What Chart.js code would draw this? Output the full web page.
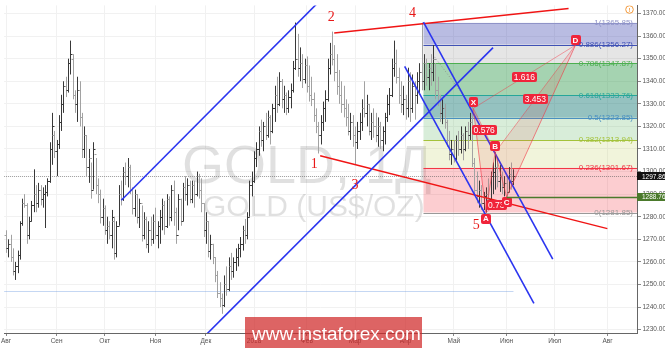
<!DOCTYPE html>
<html>
<head>
<meta charset="utf-8">
<script src="https://cdn.jsdelivr.net/npm/chart.js@4.4.1/dist/chart.umd.min.js"></script>
<style>
    html, body { margin: 0; padding: 0; background: #fff; overflow: hidden; }
    #wrap { width: 665px; height: 348px; }
</style>
</head>
<body>
<div id="wrap"><canvas id="chart" width="665" height="348"></canvas></div>
<script>
// x axis = trading day index from 1 Aug 2017
const monthTicks = [0, 22, 43, 65, 87, 108, 131, 152, 174, 195, 218, 239, 262];
const monthLabels = ['Авг', 'Сен', 'Окт', 'Ноя', 'Дек', '2018', 'Фев', 'Мар', 'Апр', 'Май', 'Июн', 'Июл', 'Авг'];
const priceTicks = [1230, 1240, 1250, 1260, 1270, 1280, 1290, 1300, 1310, 1320, 1330, 1340, 1350, 1360, 1370];

// daily OHLC, GOLD
const highs = [
    1274, 1270, 1272, 1266, 1260, 1265, 1278, 1288, 1290, 1286,
    1280, 1287, 1301, 1294, 1295, 1294, 1293, 1294, 1297, 1313,
    1326, 1318, 1314, 1325, 1334, 1340, 1342, 1350, 1358, 1352,
    1336, 1342, 1340, 1326, 1320, 1316, 1310, 1304, 1313, 1306,
    1297, 1292, 1288, 1285, 1280, 1278, 1283, 1280, 1278, 1294,
    1296, 1302, 1304, 1306, 1303, 1293, 1292, 1290, 1288, 1285,
    1282, 1280, 1278, 1280, 1281, 1284, 1278, 1283, 1288, 1287,
    1290, 1289, 1294, 1296, 1284, 1290, 1288, 1295, 1298, 1297,
    1296, 1296, 1296, 1300, 1299, 1297, 1286, 1282, 1278, 1272,
    1268, 1262, 1256, 1251, 1246, 1254, 1258, 1262, 1264, 1262,
    1266, 1268, 1271, 1276, 1279, 1282, 1296, 1300, 1309, 1313,
    1320, 1323, 1322, 1326, 1327, 1325, 1330, 1338, 1342, 1344,
    1341, 1338, 1335, 1336, 1339, 1349, 1366, 1361, 1355, 1352,
    1350, 1351, 1347, 1342, 1335, 1328, 1322, 1325, 1331, 1336,
    1350, 1357, 1362, 1356, 1352, 1345, 1340, 1338, 1332, 1330,
    1326, 1325, 1320, 1322, 1326, 1332, 1340, 1334, 1330, 1326,
    1328, 1326, 1324, 1322, 1320, 1326, 1334, 1337, 1350, 1358,
    1354, 1346, 1340, 1338, 1334, 1346, 1344, 1343, 1340, 1344,
    1348, 1366, 1352, 1350, 1348, 1352, 1356, 1348, 1342, 1334,
    1332, 1330, 1323, 1318, 1314, 1314, 1316, 1318, 1320, 1317,
    1320, 1322, 1326, 1328, 1306, 1300, 1296, 1294, 1291, 1293,
    1297, 1300, 1304, 1308.5, 1306, 1303, 1300, 1298, 1298, 1302,
    1304, 1301
];
const lows = [
    1264, 1262, 1260, 1254, 1252, 1255, 1261, 1276, 1284, 1268,
    1270, 1278, 1282, 1282, 1284, 1285, 1284, 1275, 1289, 1295,
    1303, 1306, 1298, 1310, 1318, 1326, 1333, 1335, 1343, 1332,
    1326, 1322, 1320, 1306, 1306, 1298, 1295, 1288, 1292, 1290,
    1286, 1277, 1276, 1272, 1268, 1270, 1266, 1261, 1262, 1276,
    1285, 1287, 1294, 1293, 1290, 1281, 1280, 1277, 1275, 1269,
    1270, 1266, 1264, 1267, 1268, 1270, 1266, 1268, 1274, 1272,
    1275, 1276, 1278, 1276, 1268, 1274, 1276, 1278, 1287, 1285,
    1286, 1286, 1284, 1289, 1288, 1282, 1271, 1268, 1262, 1261,
    1259, 1251, 1244, 1240, 1237, 1240, 1245, 1247, 1252, 1253,
    1256, 1258, 1262, 1265, 1268, 1270, 1280, 1289, 1295, 1302,
    1307, 1311, 1309, 1314, 1315, 1312, 1317, 1322, 1326, 1329,
    1328, 1326, 1325, 1326, 1328, 1335, 1345, 1342, 1340, 1337,
    1339, 1335, 1331, 1329, 1322, 1317, 1308, 1312, 1318, 1322,
    1331, 1343, 1347, 1340, 1334, 1330, 1326, 1324, 1320, 1316,
    1314, 1311, 1303, 1310, 1314, 1318, 1324, 1320, 1316, 1314,
    1315, 1313, 1311, 1310, 1309, 1312, 1322, 1325, 1333, 1342,
    1339, 1330, 1326, 1325, 1323, 1324, 1322, 1326, 1323, 1330,
    1334, 1336, 1336, 1338, 1336, 1338, 1340, 1332, 1329, 1322,
    1321, 1319, 1311, 1305, 1303, 1304, 1305, 1307, 1308, 1305,
    1309, 1310, 1314, 1302, 1290, 1286, 1284, 1283, 1283, 1281.85,
    1285, 1287, 1290, 1292, 1293, 1291, 1290, 1289, 1288.76, 1291,
    1292, 1294
];
const opens = [
    1272, 1266, 1268, 1262, 1256, 1258, 1263, 1277, 1286, 1285,
    1272, 1278, 1285, 1290, 1286, 1292, 1288, 1290, 1291, 1296,
    1310, 1316, 1309, 1312, 1322, 1330, 1338, 1336, 1348, 1350,
    1334, 1330, 1336, 1324, 1310, 1316, 1302, 1306, 1292, 1308,
    1294, 1290, 1280, 1284, 1274, 1276, 1272, 1278, 1264, 1276,
    1290, 1288, 1300, 1298, 1302, 1292, 1284, 1290, 1280, 1286,
    1272, 1279, 1268, 1274, 1270, 1278, 1272, 1276, 1280, 1285,
    1276, 1288, 1280, 1292, 1282, 1272, 1288, 1278, 1293, 1290,
    1294, 1288, 1294, 1290, 1298, 1292, 1286, 1274, 1278, 1265,
    1268, 1262, 1254, 1246, 1244, 1241, 1250, 1248, 1258, 1256,
    1260, 1262, 1266, 1268, 1274, 1272, 1280, 1294, 1296, 1306,
    1310, 1318, 1314, 1320, 1316, 1324, 1318, 1328, 1334, 1330,
    1340, 1332, 1334, 1328, 1333, 1336, 1346, 1350, 1346, 1348,
    1341, 1347, 1338, 1334, 1332, 1325, 1320, 1316, 1322, 1328,
    1332, 1346, 1352, 1350, 1344, 1338, 1334, 1330, 1328, 1324,
    1318, 1322, 1316, 1313, 1318, 1322, 1328, 1326, 1330, 1318,
    1322, 1320, 1316, 1320, 1314, 1318, 1324, 1330, 1334, 1346,
    1348, 1342, 1334, 1330, 1332, 1328, 1340, 1328, 1338, 1334,
    1340, 1344, 1340, 1348, 1342, 1346, 1344, 1350, 1336, 1334,
    1326, 1328, 1322, 1314, 1308, 1310, 1306, 1314, 1310, 1316,
    1310, 1318, 1316, 1322, 1304, 1292, 1289, 1292, 1286, 1289,
    1290, 1288, 1298, 1300, 1302, 1296, 1298, 1293, 1295, 1291,
    1299, 1296
];
const closes = [
    1266, 1268, 1262, 1256, 1258, 1263, 1277, 1286, 1285, 1272,
    1278, 1285, 1290, 1286, 1292, 1288, 1290, 1291, 1296, 1310,
    1320, 1309, 1312, 1322, 1330, 1338, 1336, 1348, 1352, 1334,
    1330, 1336, 1324, 1310, 1316, 1302, 1306, 1292, 1310, 1294,
    1290, 1280, 1284, 1274, 1276, 1272, 1280, 1264, 1276, 1290,
    1288, 1300, 1298, 1302, 1292, 1284, 1290, 1280, 1286, 1272,
    1279, 1268, 1274, 1270, 1278, 1272, 1276, 1280, 1285, 1276,
    1288, 1280, 1292, 1282, 1272, 1288, 1278, 1293, 1290, 1294,
    1288, 1294, 1290, 1298, 1292, 1286, 1274, 1278, 1265, 1268,
    1262, 1254, 1246, 1244, 1241, 1250, 1248, 1258, 1256, 1260,
    1262, 1266, 1268, 1274, 1272, 1280, 1294, 1296, 1306, 1310,
    1318, 1314, 1320, 1316, 1324, 1318, 1328, 1334, 1330, 1340,
    1332, 1334, 1328, 1333, 1336, 1346, 1350, 1346, 1348, 1341,
    1347, 1338, 1334, 1332, 1325, 1320, 1316, 1322, 1328, 1332,
    1346, 1352, 1350, 1344, 1338, 1334, 1330, 1328, 1324, 1318,
    1322, 1316, 1313, 1318, 1322, 1328, 1326, 1330, 1318, 1322,
    1320, 1316, 1320, 1314, 1318, 1324, 1330, 1334, 1346, 1348,
    1342, 1334, 1330, 1332, 1328, 1340, 1328, 1338, 1334, 1340,
    1344, 1340, 1348, 1342, 1346, 1344, 1350, 1336, 1334, 1326,
    1328, 1322, 1314, 1308, 1310, 1306, 1314, 1310, 1316, 1310,
    1318, 1316, 1322, 1304, 1292, 1289, 1292, 1286, 1289, 1290,
    1288, 1298, 1300, 1302, 1296, 1298, 1293, 1295, 1291, 1299,
    1296, 1297.86
];

// fibonacci retracement from wave 4 top
const fibStart = 181.8;
const fibRatios = ['1', '0.886', '0.786', '0.618', '0.5', '0.382', '0.236', '0'];
const fibPrices = [1365.85, 1356.27, 1347.87, 1333.76, 1323.85, 1313.94, 1301.67, 1281.85];

// trend lines [index, price]
const channelUpLower = [[85.7, 1226.3], [212.1, 1354.9]];
const channelUpUpper = [[50.2, 1287.3], [136.8, 1375.8]];
const channelDownUpper = [[181.8, 1366.2], [238.1, 1261.2]];
const channelDownLower = [[173.6, 1346.6], [229.9, 1241.6]];
const wedgeTop = [[142.9, 1361.4], [245.0, 1372.2]];
const wedgeBottom = [[136.8, 1307.0], [261.9, 1274.7]];
const guideDotted = [[186.6, 1350.8], [203.5, 1328]];

// elliott wave counts
const waveLabels = ['1', '2', '3', '4', '5'];
const waveIdx = [134.2, 141.6, 152, 177, 204.8];
const wavePrice = [1303.0, 1368.4, 1293.9, 1370.1, 1276.4];

// XABCD pattern
const patternNames = ['X', 'A', 'B', 'C', 'D'];
const patternIdx = [203.5, 209, 213, 218, 248];
const patternPrice = [1328, 1281.85, 1308.5, 1288.8, 1356];
const ratioLabels = ['0.576', '0.73', '1.616', '3.453'];   // XB, AC, XD, BD

const lastPrice = 1297.86;
const supportPrice = 1288.76;
const supportStart = 218;
const blueLevel = 1247;

function line(points, color, width, dash) {
    return {
        data: points.map(p => ({ x: p[0], y: p[1] })),
        borderColor: color,
        borderWidth: width,
        borderDash: dash || [],
        pointRadius: 0,
        fill: false,
        tension: 0
    };
}

const fibFill = [
    'rgba(70,80,180,0.38)', 'rgba(150,150,150,0.25)', 'rgba(40,150,70,0.42)', 'rgba(20,120,115,0.45)',
    'rgba(76,175,80,0.22)', 'rgba(200,210,110,0.25)', 'rgba(242,54,69,0.25)'
];
const fibLine = ['#8f93c8', '#3f51b5', '#4caf50', '#26a69a', '#4a90c0', '#a4c23a', '#f23645', '#999999'];

const backdrop = {
    id: 'backdrop',
    beforeDatasetsDraw(chart) {
        const { ctx, chartArea: a, scales: { x, y } } = chart;
        ctx.save();
        ctx.beginPath();
        ctx.rect(a.left, a.top, a.right - a.left, a.bottom - a.top);
        ctx.clip();

        // watermark
        ctx.fillStyle = 'rgba(0,0,0,0.12)';
        ctx.textBaseline = 'alphabetic';
        ctx.font = '54px "Liberation Sans", Arial, sans-serif';
        ctx.fillText('GOLD, 1Д', 182, 183);
        ctx.font = '30px "Liberation Sans", Arial, sans-serif';
        ctx.fillText('GOLD (US$/OZ)', 203, 216);

        // fib zones
        const fx = x.getPixelForValue(fibStart);
        for (let k = 0; k < fibPrices.length - 1; k++) {
            const y1 = y.getPixelForValue(fibPrices[k]);
            const y2 = y.getPixelForValue(fibPrices[k + 1]);
            ctx.fillStyle = fibFill[k];
            ctx.fillRect(fx, y1, a.right - fx, y2 - y1);
        }
        ctx.lineWidth = 1;
        fibPrices.forEach((p, k) => {
            const py = Math.round(y.getPixelForValue(p)) + 0.5;
            ctx.strokeStyle = fibLine[k];
            ctx.beginPath();
            ctx.moveTo(fx, py);
            ctx.lineTo(a.right, py);
            ctx.stroke();
        });

        // horizontal levels
        const by = Math.round(y.getPixelForValue(blueLevel)) + 0.5;
        ctx.strokeStyle = 'rgba(90,140,220,0.35)';
        ctx.beginPath();
        ctx.moveTo(a.left, by);
        ctx.lineTo(x.getPixelForValue(221), by);
        ctx.stroke();

        const ly = Math.round(y.getPixelForValue(lastPrice)) + 0.5;
        ctx.strokeStyle = 'rgba(90,90,90,0.6)';
        ctx.setLineDash([1, 1]);
        ctx.beginPath();
        ctx.moveTo(a.left, ly);
        ctx.lineTo(a.right, ly);
        ctx.stroke();
        ctx.setLineDash([]);

        // OHLC bars
        for (let i = 0; i < highs.length; i++) {
            const px = Math.round(x.getPixelForValue(i)) + 0.5;
            const yo = Math.round(y.getPixelForValue(opens[i])) + 0.5;
            const yc = Math.round(y.getPixelForValue(closes[i])) + 0.5;
            ctx.strokeStyle = closes[i] >= opens[i] ? '#383838' : '#a2a2a2';
            ctx.beginPath();
            ctx.moveTo(px, y.getPixelForValue(highs[i]));
            ctx.lineTo(px, y.getPixelForValue(lows[i]));
            ctx.moveTo(px - 2, yo);
            ctx.lineTo(px, yo);
            ctx.moveTo(px, yc);
            ctx.lineTo(px + 2, yc);
            ctx.stroke();
        }
        ctx.restore();
    },
    afterDatasetsDraw(chart) {
        const { ctx, chartArea: a, scales: { x, y } } = chart;
        const P = k => [x.getPixelForValue(patternIdx[k]), y.getPixelForValue(patternPrice[k])];
        const [X, A, B, C, D] = [0, 1, 2, 3, 4].map(P);
        ctx.save();
        ctx.beginPath();
        ctx.rect(a.left, a.top, a.right - a.left, a.bottom - a.top);
        ctx.clip();

        // XABCD triangles
        ctx.fillStyle = 'rgba(242,54,69,0.12)';
        [[X, A, B], [B, C, D]].forEach(t => {
            ctx.beginPath();
            ctx.moveTo(...t[0]); ctx.lineTo(...t[1]); ctx.lineTo(...t[2]);
            ctx.closePath();
            ctx.fill();
        });
        ctx.strokeStyle = 'rgba(242,54,69,0.6)';
        ctx.lineWidth = 1;
        ctx.beginPath();
        ctx.moveTo(...X); ctx.lineTo(...A); ctx.lineTo(...B); ctx.lineTo(...C); ctx.lineTo(...D);
        ctx.stroke();
        ctx.strokeStyle = 'rgba(242,54,69,0.45)';
        [[X, B], [A, C], [X, D], [B, D]].forEach(s => {
            ctx.beginPath();
            ctx.moveTo(...s[0]); ctx.lineTo(...s[1]);
            ctx.stroke();
        });

        function tag(text, cx, cy, font) {
            ctx.font = font;
            const w = ctx.measureText(text).width + 4;
            const h = 10;
            ctx.fillStyle = '#f0243a';
            ctx.beginPath();
            ctx.roundRect(Math.round(cx - w / 2), Math.round(cy - h / 2), Math.round(w), h, 2);
            ctx.fill();
            ctx.fillStyle = '#fff';
            ctx.textAlign = 'center';
            ctx.textBaseline = 'middle';
            ctx.fillText(text, cx, cy + 0.5);
        }
        const mid = (p, q) => [(p[0] + q[0]) / 2, (p[1] + q[1]) / 2];
        const ratioPos = [mid(X, B), mid(A, C), mid(X, D), mid(B, D)];
        ratioLabels.forEach((t, k) => tag(t, ratioPos[k][0], ratioPos[k][1], '8.5px "Liberation Sans", Arial, sans-serif'));
        const offs = [-6, 6, -6, 5, -5];
        [X, A, B, C, D].forEach((p, k) => tag(patternNames[k], p[0], p[1] + offs[k], 'bold 8px "Liberation Sans", Arial, sans-serif'));

        // wave counts
        ctx.font = '14px "Liberation Serif", "Times New Roman", serif';
        ctx.fillStyle = '#e81818';
        ctx.textAlign = 'center';
        ctx.textBaseline = 'middle';
        waveLabels.forEach((t, k) => ctx.fillText(t, x.getPixelForValue(waveIdx[k]), y.getPixelForValue(wavePrice[k])));

        // fib labels
        ctx.font = '8px "Liberation Sans", Arial, sans-serif';
        ctx.textAlign = 'right';
        fibPrices.forEach((p, k) => {
            ctx.fillStyle = fibLine[k];
            ctx.fillText(fibRatios[k] + '(' + p.toFixed(2) + ')', a.right - 4, y.getPixelForValue(p));
        });

        // support level
        const sy = Math.round(y.getPixelForValue(supportPrice)) + 0.5;
        ctx.strokeStyle = '#4b7a2c';
        ctx.lineWidth = 1.5;
        ctx.beginPath();
        ctx.moveTo(x.getPixelForValue(supportStart), sy);
        ctx.lineTo(a.right, sy);
        ctx.stroke();

        // alert icon
        ctx.strokeStyle = '#f39a3c';
        ctx.lineWidth = 1;
        ctx.beginPath();
        ctx.arc(629.5, 9.5, 3.8, 0, Math.PI * 2);
        ctx.stroke();
        ctx.fillStyle = '#f39a3c';
        ctx.font = 'bold 6px "Liberation Sans", Arial, sans-serif';
        ctx.textAlign = 'center';
        ctx.fillText('!', 629.5, 10);
        ctx.restore();
    },
    afterDraw(chart) {
        const { ctx, chartArea: a, scales: { y } } = chart;
        ctx.save();
        function priceBox(p, bg) {
            const cy = y.getPixelForValue(p);
            ctx.fillStyle = bg;
            ctx.fillRect(a.right, Math.round(cy - 4), 665 - a.right, 8);
            ctx.fillStyle = '#fff';
            ctx.font = '6.5px "Liberation Sans", Arial, sans-serif';
            ctx.textAlign = 'left';
            ctx.textBaseline = 'middle';
            ctx.fillText(p.toFixed(2), a.right + 5, cy + 0.5);
        }
        priceBox(lastPrice, '#111');
        priceBox(supportPrice, '#4b7a2c');

        // banner
        ctx.fillStyle = 'rgba(208,40,40,0.72)';
        ctx.fillRect(245, 317, 177, 31);
        ctx.fillStyle = '#fff';
        ctx.font = '19px "Liberation Sans", Arial, sans-serif';
        ctx.textAlign = 'left';
        ctx.textBaseline = 'alphabetic';
        ctx.fillText('www.instaforex.com', 252, 340);
        ctx.restore();
    }
};

new Chart(document.getElementById('chart'), {
    type: 'line',
    data: {
        datasets: [
            line(channelUpLower, '#2b35f0', 1.6),
            line(channelUpUpper, '#2b35f0', 1.6),
            line(channelDownUpper, '#2b35f0', 1.6),
            line(channelDownLower, '#2b35f0', 1.6),
            line(wedgeTop, '#f01414', 1.4),
            line(wedgeBottom, '#f01414', 1.4),
            line(guideDotted, 'rgba(120,120,120,0.6)', 1, [1, 2])
        ]
    },
    options: {
        responsive: false,
        animation: false,
        devicePixelRatio: 1,
        layout: { padding: 0 },
        plugins: { legend: { display: false }, tooltip: { enabled: false } },
        scales: {
            x: {
                type: 'linear',
                min: -0.87,
                max: 274.8,
                afterBuildTicks: axis => { axis.ticks = monthTicks.map(v => ({ value: v })); },
                afterFit: axis => { axis.height = 15; },
                grid: { color: '#f1f1f1', tickLength: 3, tickColor: '#888' },
                border: { display: true, color: '#666' },
                ticks: {
                    autoSkip: false,
                    maxRotation: 0,
                    padding: 1,
                    color: '#555',
                    font: { size: 6.5, family: '"Liberation Sans", Arial, sans-serif' },
                    callback: (v, i) => monthLabels[i]
                }
            },
            y: {
                position: 'right',
                min: 1228.5,
                max: 1373.6,
                afterBuildTicks: axis => { axis.ticks = priceTicks.map(v => ({ value: v })); },
                afterFit: axis => { axis.width = 28; },
                grid: { color: '#f1f1f1', tickLength: 4, tickColor: '#888' },
                border: { display: true, color: '#666' },
                ticks: {
                    padding: 1.5,
                    color: '#555',
                    font: { size: 6.5, family: '"Liberation Sans", Arial, sans-serif' },
                    callback: v => v.toFixed(2)
                }
            }
        }
    },
    plugins: [backdrop]
});
</script>
</body>
</html>
